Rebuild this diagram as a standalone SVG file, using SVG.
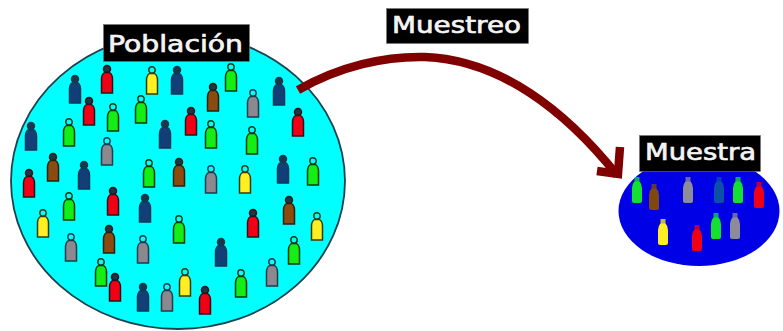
<svg xmlns="http://www.w3.org/2000/svg" xmlns:xlink="http://www.w3.org/1999/xlink" width="783" height="331" viewBox="0 0 783 331">
<style>
.label{fill:#000;stroke:#777;stroke-width:.6}
.txt{fill:#f4f4f4;font-family:"DejaVu Sans","Liberation Sans",sans-serif;font-size:23px;font-weight:normal;stroke:#f4f4f4;stroke-width:.7}
.arrow{fill:none;stroke:#800000;stroke-width:8.500}
.r{fill:#f00014;stroke:#301018}
.g{fill:#14ee14;stroke:#0c3a10}
.y{fill:#ffee22;stroke:#3a3a10}
.a{fill:#8c8890;stroke:#203a4a}
.b{fill:#8a4a10;stroke:#2a2010}
.n{fill:#123f78;stroke:#0f3a55}
.f use,.f{stroke-width:1.500}
.s{stroke:none}
.s.r{fill:#f00014}.s.g{fill:#14e030}.s.y{fill:#ffee22}.s.a{fill:#8c8c98}.s.b{fill:#80480c}.s.n{fill:#0c50a8}
</style>
<defs>
<g id="ph"><circle cx="0" cy="4" r="3.200" fill="#00ffff"/><path d="M-2.500 7.500Q-5.500 9.500 -5.500 14V28H5.500V14Q5.500 9.500 2.500 7.500Z"/></g>
<g id="pd"><circle cx="0" cy="4" r="3.500" fill="#1c3848"/><path d="M-2.500 7.500Q-5.500 9.500 -5.500 14V28H5.500V14Q5.500 9.500 2.500 7.500Z"/></g>
<g id="q"><rect x="-2.500" y="0" width="5" height="6" opacity=".75"/><path d="M-2.500 4.500Q-5 7 -5 11V24Q-5 26 -3 26H3Q5 26 5 24V11Q5 7 2.500 4.500Z"/></g>
</defs>
<g id="population">
<ellipse cx="178" cy="181" rx="167" ry="148" fill="#00ffff" stroke="#20404c" stroke-width="1.800"/>
<g class="f">
<use href="#pd" class="n" x="75" y="75"/><use href="#pd" class="r" x="107" y="65"/><use href="#ph" class="y" x="152" y="66"/><use href="#pd" class="n" x="177" y="66"/><use href="#ph" class="g" x="231" y="63"/><use href="#pd" class="b" x="213" y="83"/><use href="#ph" class="a" x="253" y="89"/><use href="#pd" class="n" x="279" y="77"/><use href="#pd" class="r" x="298" y="108"/><use href="#pd" class="r" x="191" y="107"/>
<use href="#ph" class="g" x="211" y="120"/><use href="#ph" class="g" x="252" y="126"/><use href="#pd" class="r" x="89" y="97"/><use href="#ph" class="g" x="113" y="103"/><use href="#ph" class="g" x="141" y="95"/><use href="#pd" class="n" x="165" y="120"/><use href="#ph" class="g" x="69" y="118"/><use href="#pd" class="n" x="31" y="122"/><use href="#ph" class="a" x="107" y="137"/><use href="#pd" class="b" x="53" y="153"/>
<use href="#pd" class="n" x="84" y="161"/><use href="#ph" class="g" x="149" y="159"/><use href="#pd" class="b" x="179" y="158"/><use href="#ph" class="a" x="211" y="165"/><use href="#ph" class="y" x="245" y="165"/><use href="#pd" class="n" x="283" y="155"/><use href="#ph" class="g" x="313" y="157"/><use href="#pd" class="r" x="29" y="169"/><use href="#ph" class="g" x="69" y="192"/><use href="#pd" class="r" x="113" y="187"/>
<use href="#pd" class="n" x="145" y="194"/><use href="#ph" class="y" x="43" y="209"/><use href="#ph" class="g" x="179" y="215"/><use href="#pd" class="r" x="253" y="209"/><use href="#pd" class="b" x="289" y="196"/><use href="#ph" class="y" x="317" y="212"/><use href="#ph" class="a" x="71" y="233"/><use href="#pd" class="b" x="109" y="225"/><use href="#ph" class="a" x="143" y="235"/><use href="#pd" class="n" x="221" y="238"/>
<use href="#ph" class="g" x="294" y="236"/><use href="#ph" class="g" x="101" y="258"/><use href="#pd" class="r" x="115" y="273"/><use href="#pd" class="n" x="143" y="283"/><use href="#ph" class="a" x="167" y="283"/><use href="#ph" class="y" x="185" y="268"/><use href="#pd" class="r" x="205" y="286"/><use href="#ph" class="g" x="241" y="269"/><use href="#ph" class="a" x="272" y="258"/>
</g>
<rect class="label" x="103.500" y="24.500" width="146" height="37"/>
<text class="txt" x="108" y="52" textLength="135" lengthAdjust="spacingAndGlyphs">Población</text>
</g>
<g id="sample">
<ellipse cx="699" cy="211" rx="80.500" ry="55" fill="#0000e6"/>
<g>
<use href="#q" class="s g" x="637" y="177"/><use href="#q" class="s b" x="654" y="184"/><use href="#q" class="s a" x="688" y="177"/><use href="#q" class="s n" x="719" y="177"/><use href="#q" class="s g" x="738" y="177"/><use href="#q" class="s r" x="759" y="182"/><use href="#q" class="s y" x="663" y="219"/><use href="#q" class="s r" x="697" y="225"/><use href="#q" class="s g" x="716" y="213"/><use href="#q" class="s a" x="735" y="213"/>
</g>
<rect class="label" x="639.500" y="135.500" width="121" height="36"/>
<text class="txt" x="645" y="160" textLength="111" lengthAdjust="spacingAndGlyphs">Muestra</text>
</g>
<g id="connectors">
<path class="arrow" d="M298 90C340 66 385 56 425 57C500 60 565 110 617 175"/>
<path class="arrow" d="M620 147L618 174L597 171"/>
</g>
<g id="muestreo-label">
<rect class="label" x="386.500" y="8.500" width="142" height="35"/>
<text class="txt" x="392" y="33" textLength="129" lengthAdjust="spacingAndGlyphs">Muestreo</text>
</g>
</svg>
